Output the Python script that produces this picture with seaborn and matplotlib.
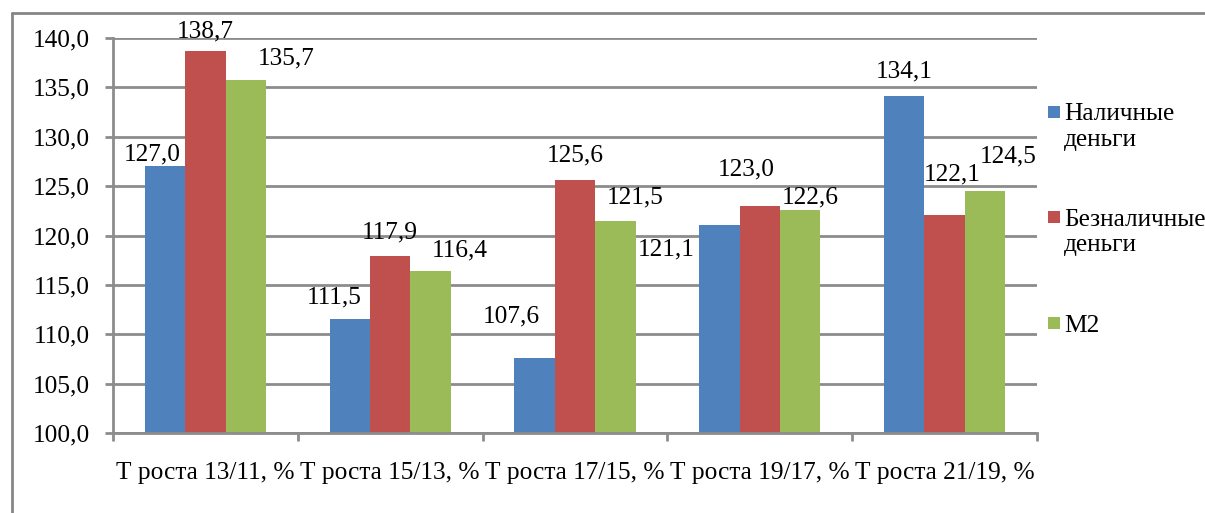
import matplotlib
matplotlib.use("Agg")
import matplotlib.pyplot as plt
import matplotlib.ticker as mticker
from matplotlib.patches import Rectangle
from matplotlib.lines import Line2D
import seaborn as sns
import pandas as pd

categories = ["Т роста 13/11, %", "Т роста 15/13, %", "Т роста 17/15, %",
              "Т роста 19/17, %", "Т роста 21/19, %"]
series = ["Наличные\nденьги", "Безналичные\nденьги", "М2"]
cash = [127.0, 111.5, 107.6, 121.1, 134.1]
noncash = [138.7, 117.9, 125.6, 123.0, 122.1]
m2 = [135.7, 116.4, 121.5, 122.6, 124.5]
colors = ["#4F81BD", "#C0504D", "#9BBB59"]

# label offsets (pixels) for each series/category, layout only
label_offsets = [
    [(-13, -12), (-16, -22), (-23, -41), (-53, 25), (0, -25)],
    [(0, -19), (0, -24), (0, -25), (-14, -36), (8, -40)],
    [(40, -22), (29, -21), (20, -23), (10, -12), (23, -35)],
]

values = [cash, noncash, m2]
rows = []
for s, vals in zip(series, values):
    for c, v in zip(categories, vals):
        rows.append({"cat": c, "series": s, "value": v})
df = pd.DataFrame(rows)

sns.set_theme(style="white")
FONT = ["Liberation Serif", "DejaVu Serif"]
plt.rcParams["font.family"] = FONT
FS = 18.3

fig = plt.figure(figsize=(12.05, 5.13), dpi=100)
ax = fig.add_axes([113 / 1205, 1 - 433 / 513, (1037 - 113) / 1205, (433 - 38) / 513])

sns.barplot(data=df, x="cat", y="value", hue="series", order=categories,
            hue_order=series, palette=colors, width=0.656, gap=0,
            saturation=1, ax=ax, legend=False, errorbar=None, linewidth=0)

ax.set_ylim(100, 140)
ax.set_xlim(-0.5, len(categories) - 0.5)
ax.set_yticks([100, 105, 110, 115, 120, 125, 130, 135, 140])
ax.yaxis.set_major_formatter(mticker.FuncFormatter(lambda v, p: f"{v:.1f}".replace(".", ",")))
ax.set_xlabel("")
ax.set_ylabel("")

grid_c = "#8C8C8C"
ax.grid(axis="y", color=grid_c, linewidth=2)
ax.set_axisbelow(True)
for side in ["top", "right"]:
    ax.spines[side].set_visible(False)
for side in ["left", "bottom"]:
    ax.spines[side].set_color(grid_c)
    ax.spines[side].set_linewidth(2)

ax.tick_params(axis="y", which="major", length=5.5, width=2, color=grid_c,
               pad=11, labelsize=FS, labelcolor="black", left=True)
ax.tick_params(axis="x", which="major", length=0, pad=21, labelsize=FS,
               labelcolor="black")
ax.set_xticks(range(len(categories)))
ax.set_xticklabels(categories)
ax.set_xticks([i - 0.5 for i in range(len(categories) + 1)], minor=True)
ax.tick_params(axis="x", which="minor", length=5.5, width=2, color=grid_c,
               bottom=True)

# data labels
for si, cont in enumerate(ax.containers):
    for ci, patch in enumerate(cont.patches):
        v = values[si][ci]
        x = patch.get_x() + patch.get_width() / 2
        dx, dy = label_offsets[si][ci]
        ax.annotate(f"{v:.1f}".replace(".", ","), xy=(x, v),
                    xytext=(dx, -dy), textcoords="offset pixels",
                    ha="center", va="center", fontsize=FS, color="black",
                    annotation_clip=False)

# legend (manual, square aligned with first line)
leg_y = [111.5, 217, 323]
for s, c, y in zip(series, colors, leg_y):
    fig.add_artist(Rectangle((1048 / 1205, 1 - (y + 6) / 513), 12 / 1205, 12 / 513,
                             transform=fig.transFigure, color=c, lw=0))
    fig.text(1064 / 1205, 1 - (y - 8) / 513, s, ha="left", va="top",
             fontsize=FS, linespacing=1.2, color="black")

# outer frame (top and left visible)
fig.add_artist(Line2D([12 / 1205, 1], [1 - 13 / 513, 1 - 13 / 513],
                      transform=fig.transFigure, color="#868686", lw=2))
fig.add_artist(Line2D([12 / 1205, 12 / 1205], [0, 1 - 13 / 513],
                      transform=fig.transFigure, color="#868686", lw=2))

fig.savefig("out.png", dpi=100)
